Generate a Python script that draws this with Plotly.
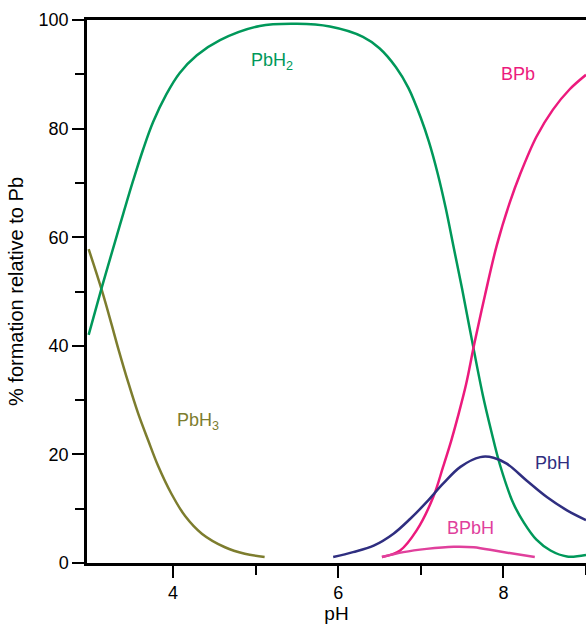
import plotly.graph_objects as go

# pH values and % formation for each species
ph_pbh3 = [2.98, 3.14, 3.26, 3.34, 3.46, 3.58, 3.70, 3.82, 3.98, 4.15, 4.35, 4.63, 4.87, 5.11]
pct_pbh3 = [57.8, 50.2, 43.8, 39.4, 33.2, 27.5, 22.6, 17.9, 12.8, 8.6, 5.4, 2.9, 1.7, 1.1]

ph_pbh2 = [2.98, 3.14, 3.30, 3.40, 3.52, 3.64, 3.76, 3.92, 4.08, 4.29, 4.57, 5.05, 5.5,
           5.90, 6.30, 6.50, 6.70, 6.85, 7.00, 7.10, 7.20, 7.30, 7.40, 7.50, 7.62, 7.75,
           7.85, 7.96, 8.12, 8.25, 8.40, 8.57, 8.77, 9.0]
pct_pbh2 = [42.0, 50.8, 59.2, 64.4, 70.5, 76.2, 81.2, 86.3, 90.2, 93.5, 96.3, 98.9, 99.3,
            98.8, 96.9, 94.8, 91.3, 87.5, 82.0, 77.5, 72.0, 65.5, 58.0, 50.5, 41.0, 31.0,
            24.5, 18.0, 11.0, 7.4, 4.3, 2.3, 1.2, 1.5]

ph_bpb = [6.53, 6.75, 6.95, 7.15, 7.27, 7.37, 7.45, 7.55, 7.65, 7.78, 7.92, 8.08, 8.2,
          8.4, 8.6, 8.8, 9.0]
pct_bpb = [1.1, 2.3, 6.0, 12.1, 17.7, 22.6, 27.0, 33.0, 40.5, 49.5, 58.5, 66.5, 71.5,
           78.5, 83.5, 87.2, 89.9]

ph_pbh = [5.94, 6.18, 6.43, 6.67, 6.87, 7.07, 7.27, 7.48, 7.72, 7.88, 8.04, 8.28, 8.53,
          8.77, 9.0]
pct_pbh = [1.1, 2.0, 3.2, 5.4, 8.1, 11.2, 14.6, 17.7, 19.5, 19.4, 18.3, 15.2, 12.1,
           9.7, 7.9]

ph_bpbh = [6.53, 6.79, 7.07, 7.40, 7.64, 7.96, 8.38]
pct_bpbh = [1.1, 2.0, 2.6, 3.0, 2.9, 2.1, 1.1]

species = ["PbH<sub>3</sub>", "PbH<sub>2</sub>", "BPb", "PbH", "BPbH"]
colors = ["#7d7d2e", "#00985a", "#ec1a7d", "#2f2e80", "#e0409c"]
label_ph = [4.3, 5.2, 8.18, 8.6, 7.6]
label_pct = [26.0, 92.3, 90.0, 18.5, 6.5]

series = [(ph_pbh3, pct_pbh3), (ph_pbh2, pct_pbh2), (ph_bpb, pct_bpb),
          (ph_pbh, pct_pbh), (ph_bpbh, pct_bpbh)]

fig = go.Figure()
for (xs, ys), name, c in zip(series, species, colors):
    fig.add_trace(go.Scatter(x=xs, y=ys, mode="lines", name=name,
                             line=dict(color=c, width=2.5, shape="spline", smoothing=1.0),
                             showlegend=False, cliponaxis=True))

for name, c, lx, ly in zip(species, colors, label_ph, label_pct):
    fig.add_annotation(x=lx, y=ly, text=name, showarrow=False,
                       font=dict(family="Liberation Sans, Arial", size=18, color=c))

axis_font = dict(family="Liberation Sans, Arial", size=18, color="black")
fig.update_layout(
    width=586, height=629,
    margin=dict(l=87, r=0, t=20, b=66),
    plot_bgcolor="white", paper_bgcolor="white",
    font=axis_font,
    xaxis=dict(range=[2.96, 9.0], showline=True, linecolor="black", linewidth=2.5,
               mirror=True, ticks="outside", ticklen=12, tickwidth=2, tickcolor="black",
               tickvals=[4, 6, 8], showgrid=False, zeroline=False,
               minor=dict(tickvals=[5, 7, 9], ticks="outside", ticklen=9, tickwidth=2,
                          tickcolor="black", showgrid=False),
               title=dict(text="pH", font=dict(size=19), standoff=5),
               tickfont=axis_font),
    yaxis=dict(range=[0, 100], showline=True, linecolor="black", linewidth=2.5,
               ticks="outside", ticklen=12, tickwidth=2, tickcolor="black",
               tickvals=[0, 20, 40, 60, 80, 100], showgrid=False, zeroline=False,
               minor=dict(tickvals=[10, 30, 50, 70, 90], ticks="outside", ticklen=9,
                          tickwidth=2, tickcolor="black", showgrid=False),
               title=dict(text="% formation relative to Pb", font=dict(size=20), standoff=10),
               tickfont=axis_font),
)

fig.write_html("out.html")
